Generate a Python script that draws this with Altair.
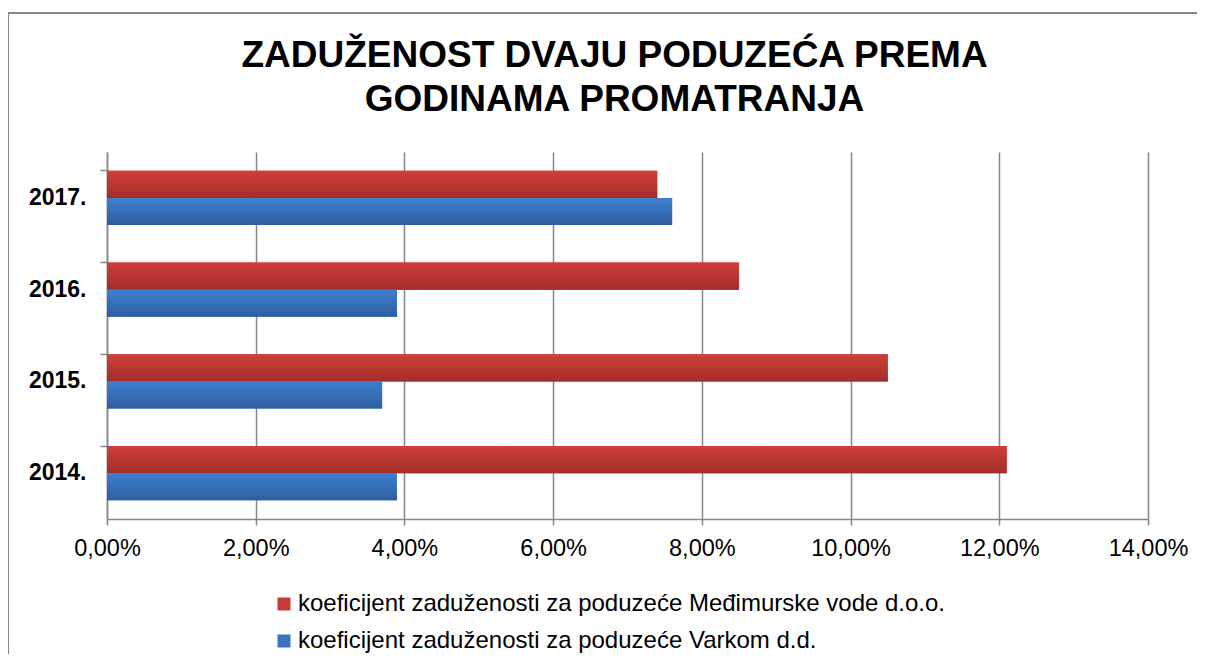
import altair as alt
import pandas as pd

years = ["2017.", "2016.", "2015.", "2014."]
series = [
    "koeficijent zaduženosti za poduzeće Međimurske vode d.o.o.",
    "koeficijent zaduženosti za poduzeće Varkom d.d.",
]
medjimurske = [0.074, 0.085, 0.105, 0.121]
varkom = [0.076, 0.039, 0.037, 0.039]
x_ticks = [0.0, 0.02, 0.04, 0.06, 0.08, 0.10, 0.12, 0.14]
title_lines = ["ZADUŽENOST DVAJU PODUZEĆA PREMA", "GODINAMA PROMATRANJA"]

rows = []
for y, a, b in zip(years, medjimurske, varkom):
    rows.append({"godina": y, "serija": series[0], "vrijednost": a})
    rows.append({"godina": y, "serija": series[1], "vrijednost": b})
df = pd.DataFrame(rows)

FONT = "Liberation Sans"
solid = ["#C23B37", "#3A74C0"]
grad_red = {"gradient": "linear", "x1": 0, "y1": 0, "x2": 0, "y2": 1,
            "stops": [{"offset": 0, "color": "#D03F3B"}, {"offset": 1, "color": "#A22D2A"}]}
grad_blue = {"gradient": "linear", "x1": 0, "y1": 0, "x2": 0, "y2": 1,
             "stops": [{"offset": 0, "color": "#3D80D0"}, {"offset": 1, "color": "#2E5E9E"}]}

x_enc = alt.X("vrijednost:Q",
              scale=alt.Scale(domain=[0, 0.14], nice=False),
              axis=alt.Axis(values=x_ticks, title=None,
                            labelExpr="replace(format(datum.value, '.2%'), '.', ',')",
                            labelFont=FONT, labelFontSize=23.5, labelColor="#000000",
                            labelFlush=False, labelOverlap=False,
                            labelPadding=11, tickSize=6, tickColor="#868686", tickWidth=1.5,
                            domainColor="#868686", domainWidth=1.5,
                            grid=True, gridColor="#868686", gridWidth=1.5))
y_enc = alt.Y("godina:N", sort=years,
              scale=alt.Scale(paddingInner=0.41, paddingOuter=0.205),
              axis=alt.Axis(title=None, labelFont=FONT, labelFontSize=23,
                            labelFontWeight="bold", labelColor="#000000",
                            labelPadding=14, tickSize=7, tickColor="#868686", tickWidth=1.5,
                            bandPosition=0, domainColor="#868686", domainWidth=1.5,
                            grid=False))
yoff = alt.YOffset("serija:N", sort=series, scale=alt.Scale(paddingInner=0, paddingOuter=0))

base = alt.Chart(df)

bars = base.mark_bar().encode(
    x=x_enc, y=y_enc, yOffset=yoff,
    color=alt.Color("serija:N", sort=series,
                    scale=alt.Scale(domain=series, range=solid),
                    legend=alt.Legend(orient="none", legendX=165, legendY=440,
                                      direction="vertical", title=None,
                                      symbolType="square", symbolSize=169,
                                      symbolStrokeWidth=0, labelFont=FONT,
                                      labelFontSize=24, labelColor="#000000",
                                      labelLimit=1000, rowPadding=13, labelOffset=2)),
)

red = base.transform_filter(alt.datum.serija == series[0]).mark_bar(fill=grad_red).encode(
    x="vrijednost:Q", y=alt.Y("godina:N", sort=years), yOffset=yoff)
blue = base.transform_filter(alt.datum.serija == series[1]).mark_bar(fill=grad_blue).encode(
    x="vrijednost:Q", y=alt.Y("godina:N", sort=years), yOffset=yoff)

frame = alt.Chart(pd.DataFrame({"k": [0]})).mark_rect(
    fillOpacity=0, stroke="#888888", strokeWidth=2).encode(
    x=alt.value(-99), x2=alt.value(1200), y=alt.value(-139), y2=alt.value(700))

chart = alt.layer(frame, bars, red, blue).properties(
    width=1041, height=367,
    autosize=alt.AutoSizeParams(type="none"),
    padding={"left": 99, "top": 144, "right": 49, "bottom": 135},
    title=alt.TitleParams(text=title_lines, font=FONT, fontSize=37, fontWeight="bold",
                          color="#000000", anchor="middle", dx=-13, lineHeight=44,
                          offset=0, dy=107),
).configure_view(stroke=None)

chart.save("out.html", embed_options={"renderer": "svg", "actions": False})
